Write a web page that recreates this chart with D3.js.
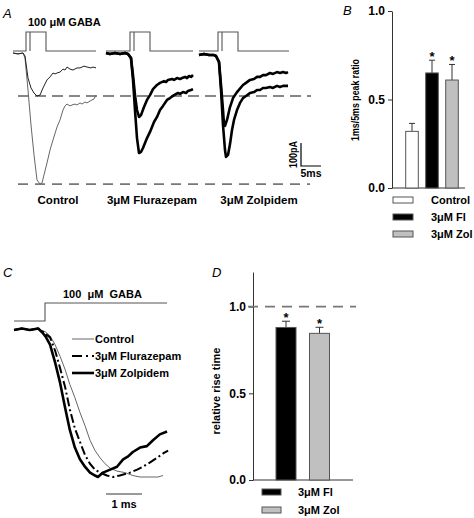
<!DOCTYPE html>
<html><head><meta charset="utf-8">
<script src="https://cdn.jsdelivr.net/npm/d3@7"></script>
<style>
html,body{margin:0;padding:0;background:#fff;}
svg{display:block;font-family:"Liberation Sans",Arial,sans-serif;}
.b{font-weight:bold;font-size:11px;fill:#000;}
.pl{font-style:italic;font-size:13px;fill:#000;}
</style></head><body>
<svg id="c" width="474" height="518"></svg>
<script>
// ---------------- DATA ----------------
// Panel A: GABA pulse durations (ms) and trace windows (ms, relative to pulse onset)
const pulseDurations = [1, 5];
const groupLabels = ["Control", "3\u03bcM Flurazepam", "3\u03bcM Zolpidem"];
const groupWindows = [[-3.25, 17.5], [-6, 15.75], [-4.75, 17.75]];
// Panel A traces: [time ms, current pA]
const ctrl1ms = [[-3.25,0],[-2,-4],[-0.75,0],[-0.25,-13],[0.5,-109],[1.25,-152],[2,-174],[2.75,-187],[3.5,-183],[4.25,-152],[5.25,-117],[6,-104],[6.75,-87],[7.25,-91],[7.75,-87],[8.5,-83],[9.25,-70],[9.75,-74],[10.25,-61],[11,-70],[11.75,-74],[12.75,-65],[13.5,-65],[14,-61],[14.5,-57],[15.25,-61],[16.25,-65],[16.75,-61],[17.5,-65]];
const ctrl5ms = [[-3.25,0],[-2,-4],[-0.75,0],[-0.25,-22],[0.5,-161],[1.25,-313],[2,-443],[2.75,-552],[3.5,-570],[4,-565],[4.5,-530],[5.25,-478],[6,-422],[6.75,-378],[7.75,-322],[8.5,-291],[9.25,-248],[9.75,-230],[10.25,-222],[11,-230],[11.5,-226],[12.25,-222],[12.75,-226],[13.5,-217],[14,-222],[14.75,-213],[15.25,-217],[16,-209],[16.5,-204],[17,-200],[17.5,-183]];
const fl1ms = [[-6,0],[-5,-4],[-3.75,0],[-2.5,-4],[-1.25,0],[-0.5,-4],[0.25,-22],[0.75,-96],[1.25,-183],[1.75,-248],[2.25,-278],[2.75,-270],[3.5,-235],[4.25,-204],[5,-183],[5.75,-157],[6.75,-139],[7.5,-130],[8.5,-122],[9,-126],[9.5,-117],[10.5,-113],[11,-117],[11.75,-109],[12.5,-113],[13,-109],[13.75,-104],[14.25,-109],[14.75,-100],[15.25,-104],[15.75,-96]];
const fl5ms = [[-6,0],[-5,-4],[-3.75,0],[-2.5,-4],[-1.25,0],[-0.5,-4],[0.25,-22],[0.75,-117],[1.25,-248],[1.75,-370],[2.25,-435],[2.75,-430],[3.25,-413],[4.25,-370],[5,-343],[6,-300],[6.75,-278],[7.5,-248],[8.25,-230],[9.25,-204],[10,-196],[11,-183],[12,-174],[12.5,-178],[13.25,-170],[14,-174],[14.5,-165],[15.25,-161],[15.75,-157]];
const zol1ms = [[-4.75,-9],[-3.5,-4],[-2.25,-9],[-1,-9],[-0.5,-13],[0.25,-39],[0.75,-139],[1.25,-248],[1.5,-309],[1.75,-317],[2.25,-291],[3,-235],[3.75,-196],[4.75,-170],[6.25,-139],[7,-130],[8,-117],[9,-113],[9.75,-104],[10.5,-104],[11.25,-96],[12,-96],[13,-87],[13.75,-91],[14.75,-83],[15.5,-87],[16.25,-83],[17,-87],[17.5,-83]];
const zol5ms = [[-4.75,-9],[-3.5,-4],[-2.25,-9],[-1,-9],[-0.5,-13],[0.25,-39],[0.75,-161],[1.25,-313],[1.75,-422],[2,-452],[2.5,-443],[3,-396],[3.5,-335],[4,-291],[4.75,-248],[5.5,-217],[6.25,-196],[7,-187],[8,-174],[9,-170],[9.75,-161],[10.5,-161],[11.25,-152],[12,-152],[13,-148],[13.75,-152],[14.75,-143],[15.5,-148],[16.25,-143],[17,-143],[17.5,-143]];

// Panel B: 1ms/5ms peak ratio
const ratioCats = ["Control", "3\u03bcM Fl", "3\u03bcM Zol"];
const ratioMean = [0.32, 0.65, 0.61];
const ratioSem = [0.045, 0.072, 0.088];
const ratioSig = [false, true, true];
const ratioTicks = [0, 0.5, 1.0];

// Panel C: normalized rise of currents [time ms, normalized current]
const stepWindow = [-0.86, 3.39];
const cCtrl = [[-0.86,0],[-0.64,0.01],[-0.42,0],[-0.19,0.01],[-0.06,-0.01],[0,-0.01],[0.14,-0.04],[0.28,-0.10],[0.42,-0.18],[0.56,-0.27],[0.69,-0.37],[0.83,-0.46],[0.97,-0.56],[1.11,-0.65],[1.25,-0.75],[1.39,-0.82],[1.53,-0.87],[1.67,-0.91],[1.81,-0.94],[2.0,-0.96],[2.22,-0.97],[2.44,-0.99],[2.64,-1.0],[2.83,-1.0],[3.0,-1.0],[3.14,-1.0],[3.28,-0.99]];
const cFl = [[-0.86,0],[-0.64,0.01],[-0.42,0],[-0.19,0.01],[-0.06,-0.01],[0.03,-0.03],[0.14,-0.05],[0.28,-0.14],[0.42,-0.26],[0.56,-0.39],[0.69,-0.54],[0.83,-0.67],[0.97,-0.76],[1.11,-0.85],[1.25,-0.91],[1.39,-0.95],[1.53,-0.97],[1.72,-0.99],[1.89,-1.0],[2.08,-0.99],[2.36,-0.97],[2.56,-0.95],[2.72,-0.93],[2.92,-0.90],[3.11,-0.87],[3.28,-0.84],[3.42,-0.82]];
const cZol = [[-0.86,0],[-0.64,0.01],[-0.42,0],[-0.19,0.01],[-0.06,-0.02],[0.03,-0.05],[0.14,-0.10],[0.28,-0.22],[0.42,-0.36],[0.56,-0.53],[0.69,-0.68],[0.83,-0.80],[0.97,-0.88],[1.11,-0.93],[1.25,-0.97],[1.39,-0.99],[1.47,-1.0],[1.61,-0.97],[1.81,-0.95],[2.0,-0.93],[2.17,-0.88],[2.31,-0.86],[2.44,-0.83],[2.64,-0.80],[2.83,-0.79],[3.0,-0.75],[3.19,-0.71],[3.39,-0.69]];
const cLegend = ["Control", "3\u03bcM Flurazepam", "3\u03bcM Zolpidem"];

// Panel D: relative rise time
const riseCats = ["3\u03bcM Fl", "3\u03bcM Zol"];
const riseMean = [0.88, 0.846];
const riseSem = [0.036, 0.035];
const riseTicks = [0, 0.5, 1.0];

// ---------------- DRAW ----------------
const svg = d3.select("#c");
const line = d3.line();

function txt(x, y, s, cls, anchor) {
  return svg.append("text").attr("x", x).attr("y", y).attr("class", cls)
    .attr("text-anchor", anchor || "start").style("white-space", "pre").text(s);
}

// ===== Panel A =====
txt(3, 18, "A", "pl");
txt(28, 26, "100 \u03bcM GABA", "b");
const yA = d3.scaleLinear().domain([0, -600]).range([53, 191]);
const onsetX = [26, 130, 218];
const xAs = onsetX.map(o => d3.scaleLinear().domain([0, 1]).range([o, o + 4]));
const pulseBase = 51, pulseTop = 32;
xAs.forEach((xs, i) => {
  const w = groupWindows[i];
  const longP = d3.max(pulseDurations), shortP = d3.min(pulseDurations);
  svg.append("path")
    .attr("d", `M${xs(w[0])},${pulseBase}H${xs(0)}V${pulseTop}H${xs(longP)}V${pulseBase}H${xs(w[1])}`)
    .attr("fill", "none").attr("stroke", "#555").attr("stroke-width", 1.1);
  svg.append("line").attr("x1", xs(shortP)).attr("x2", xs(shortP))
    .attr("y1", pulseTop).attr("y2", pulseBase).attr("stroke", "#555").attr("stroke-width", 1.1);
});
// dashed reference lines at control peaks
const peak1 = d3.min(ctrl1ms, d => d[1]);
const peak5 = d3.min(ctrl5ms, d => d[1]);
svg.append("line").attr("x1", 18).attr("x2", 311).attr("y1", yA(peak1)).attr("y2", yA(peak1))
  .attr("stroke", "#111").attr("stroke-width", 1.2).attr("stroke-dasharray", "11,6");
svg.append("line").attr("x1", 18).attr("x2", 310).attr("y1", yA(peak5)).attr("y2", yA(peak5))
  .attr("stroke", "#777").attr("stroke-width", 1.6).attr("stroke-dasharray", "10,7");

function drawA(data, gi, color, width) {
  const xs = xAs[gi];
  svg.append("path").attr("d", line(data.map(d => [xs(d[0]), yA(d[1])])))
    .attr("fill", "none").attr("stroke", color).attr("stroke-width", width)
    .attr("stroke-linejoin", "round");
}
drawA(ctrl5ms, 0, "#666", 1);
drawA(ctrl1ms, 0, "#222", 1);
drawA(fl1ms, 1, "#000", 2.6);
drawA(fl5ms, 1, "#000", 2.6);
drawA(zol1ms, 2, "#000", 2.6);
drawA(zol5ms, 2, "#000", 2.6);

// scale bar 100 pA / 5 ms
const sbX = 301, sbY = 166;
const sbH = yA(-100) - yA(0);
const sbW = xAs[2](5) - xAs[2](0);
svg.append("path").attr("d", `M${sbX},${sbY - sbH}V${sbY}H${sbX + sbW}`)
  .attr("fill", "none").attr("stroke", "#000").attr("stroke-width", 1.2);
svg.append("text").attr("class", "b").style("font-size", "11px")
  .attr("text-anchor", "middle").attr("textLength", 27).attr("lengthAdjust", "spacingAndGlyphs")
  .attr("transform", `translate(297,${sbY - sbH / 2}) rotate(-90)`).text("100pA");
txt(sbX + sbW / 2, 177, "5ms", "b", "middle").style("font-size", "10.5px");

const labelX = [58, 152, 259];
groupLabels.forEach((g, i) => txt(labelX[i], 204, g, "b", "middle").style("font-size", "11.5px"));

// ===== Panel B =====
txt(343, 15, "B", "pl");
const yB = d3.scaleLinear().domain([0, 1]).range([188, 11]);
const xB = d3.scalePoint().domain(ratioCats).range([412, 452]);
const barWB = 12.6;
const axB = svg.append("g").attr("transform", "translate(392,0)")
  .call(d3.axisLeft(yB).tickValues(ratioTicks).tickFormat(d3.format(".1f")).tickSize(4).tickSizeOuter(0).tickPadding(3));
axB.select(".domain").attr("stroke", "#333");
axB.selectAll(".tick line").attr("stroke", "#333");
axB.selectAll(".tick text").attr("font-family", "Liberation Sans, Arial, sans-serif")
  .attr("font-weight", "bold").attr("font-size", "12px").attr("fill", "#000");
svg.append("line").attr("x1", 392).attr("x2", 465).attr("y1", yB(0)).attr("y2", yB(0)).attr("stroke", "#333");
const fillsB = ["#fff", "#000", "#c0c0c0"];
ratioCats.forEach((c, i) => {
  const cx = xB(c);
  svg.append("line").attr("x1", cx).attr("x2", cx).attr("y1", yB(ratioMean[i])).attr("y2", yB(ratioMean[i] + ratioSem[i])).attr("stroke", "#333");
  svg.append("line").attr("x1", cx - 3).attr("x2", cx + 3).attr("y1", yB(ratioMean[i] + ratioSem[i])).attr("y2", yB(ratioMean[i] + ratioSem[i])).attr("stroke", "#333");
  svg.append("rect").attr("x", cx - barWB / 2).attr("y", yB(ratioMean[i])).attr("width", barWB)
    .attr("height", yB(0) - yB(ratioMean[i])).attr("fill", fillsB[i]).attr("stroke", "#555");
  if (ratioSig[i]) txt(cx, yB(ratioMean[i] + ratioSem[i]) + 1, "*", "b", "middle").style("font-size", "13px");
});
svg.append("text").attr("class", "b").style("font-size", "10.5px").attr("text-anchor", "middle")
  .attr("textLength", 82).attr("lengthAdjust", "spacingAndGlyphs")
  .attr("transform", "translate(359,100) rotate(-90)").text("1ms/5ms peak ratio");
ratioCats.forEach((c, i) => {
  const cy = 200 + i * 17;
  svg.append("rect").attr("x", 393).attr("y", cy - 3).attr("width", 20).attr("height", 6)
    .attr("fill", fillsB[i]).attr("stroke", "#555");
  txt(431, cy + 4, c, "b");
});

// ===== Panel C =====
txt(3, 277, "C", "pl");
txt(63, 298, "100  \u03bcM  GABA", "b");
const xC = d3.scaleLinear().domain([0, 1]).range([45, 81]);
const yC = d3.scaleLinear().domain([0, -1]).range([330, 477]);
const stepLow = 321, stepHigh = 303;
svg.append("path").attr("d", `M${xC(stepWindow[0])},${stepLow}H${xC(0)}V${stepHigh}H${xC(stepWindow[1])}`)
  .attr("fill", "none").attr("stroke", "#555").attr("stroke-width", 1.1);
function drawC(data, color, width, dash) {
  const p = svg.append("path").attr("d", line(data.map(d => [xC(d[0]), yC(d[1])])))
    .attr("fill", "none").attr("stroke", color).attr("stroke-width", width).attr("stroke-linejoin", "round");
  if (dash) p.attr("stroke-dasharray", dash);
}
drawC(cCtrl, "#666", 1);
drawC(cFl, "#000", 2, "9,3,2,3");
drawC(cZol, "#000", 2.6);
const legStyles = [["#666", 1, null], ["#000", 2, "10,4,2,4"], ["#000", 2.6, null]];
cLegend.forEach((s, i) => {
  const cy = 339 + i * 17;
  const l = svg.append("line").attr("x1", 72).attr("x2", 94).attr("y1", cy).attr("y2", cy)
    .attr("stroke", legStyles[i][0]).attr("stroke-width", legStyles[i][1]);
  if (legStyles[i][2]) l.attr("stroke-dasharray", legStyles[i][2]);
  txt(95, cy + 4, s, "b");
});
// 1 ms scale bar
svg.append("line").attr("x1", xC(0) + 61).attr("x2", xC(1) + 61).attr("y1", 494).attr("y2", 494)
  .attr("stroke", "#777").attr("stroke-width", 1.6);
txt(xC(0.5) + 61, 508, "1 ms", "b", "middle");

// ===== Panel D =====
txt(212, 277, "D", "pl");
const yD = d3.scaleLinear().domain([0, 1.2]).range([480, 272]);
const xD = d3.scalePoint().domain(riseCats).range([286, 319.5]);
const barWD = 20;
const axD = svg.append("g").attr("transform", "translate(253,0)")
  .call(d3.axisLeft(yD).tickValues(riseTicks).tickFormat(d3.format(".1f")).tickSize(4).tickSizeOuter(0).tickPadding(3));
axD.select(".domain").attr("stroke", "#333");
axD.selectAll(".tick line").attr("stroke", "#333");
axD.selectAll(".tick text").attr("font-family", "Liberation Sans, Arial, sans-serif")
  .attr("font-weight", "bold").attr("font-size", "12px").attr("fill", "#000");
svg.append("line").attr("x1", 253).attr("x2", 353).attr("y1", yD(0)).attr("y2", yD(0)).attr("stroke", "#333");
svg.append("line").attr("x1", 248).attr("x2", 356).attr("y1", yD(1)).attr("y2", yD(1))
  .attr("stroke", "#777").attr("stroke-width", 1.6).attr("stroke-dasharray", "10,7");
const fillsD = ["#000", "#c0c0c0"];
riseCats.forEach((c, i) => {
  const cx = xD(c);
  const top = yD(riseMean[i] + riseSem[i]);
  svg.append("line").attr("x1", cx).attr("x2", cx).attr("y1", yD(riseMean[i])).attr("y2", top).attr("stroke", "#333");
  svg.append("line").attr("x1", cx - 4).attr("x2", cx + 4).attr("y1", top).attr("y2", top).attr("stroke", "#333");
  svg.append("rect").attr("x", cx - barWD / 2).attr("y", yD(riseMean[i])).attr("width", barWD)
    .attr("height", yD(0) - yD(riseMean[i])).attr("fill", fillsD[i]).attr("stroke", "#555");
  txt(cx, top + 1, "*", "b", "middle").style("font-size", "13px");
});
svg.append("text").attr("class", "b").attr("text-anchor", "middle")
  .attr("transform", "translate(220,391) rotate(-90)").text("relative rise time");
riseCats.forEach((c, i) => {
  const cy = 492 + i * 18;
  svg.append("rect").attr("x", 262).attr("y", cy - 3).attr("width", 19).attr("height", 6)
    .attr("fill", fillsD[i]).attr("stroke", "#555");
  txt(298, cy + 4, c, "b");
});
</script>
</body></html>
